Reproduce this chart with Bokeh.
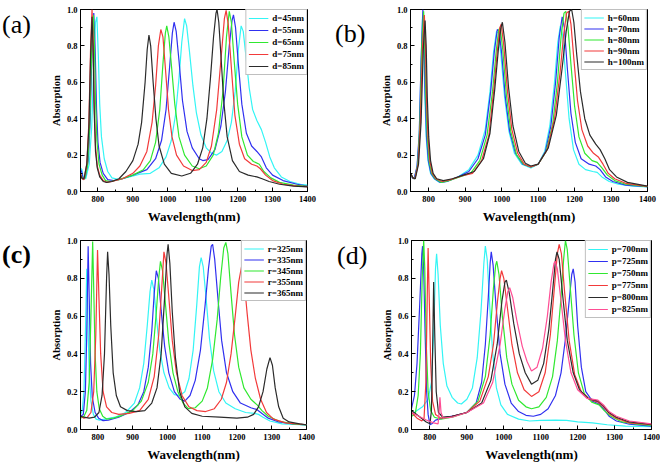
from bokeh.plotting import figure
from bokeh.layouts import column, row
from bokeh.models import SingleIntervalTicker, PrintfTickFormatter, Range1d, Div
from bokeh.embed import file_html
from bokeh.resources import INLINE

# ---------------- data ----------------
x_ticks = [800, 900, 1000, 1100, 1200, 1300, 1400]
y_ticks = [0.0, 0.2, 0.4, 0.6, 0.8, 1.0]

# panel (a): d series
a_labels = ["d=45nm", "d=55nm", "d=65nm", "d=75nm", "d=85nm"]
a45_wl = [750, 754, 758, 765, 775, 782, 788, 793, 797, 801, 805, 810, 818, 828, 840, 860, 890, 920, 950, 975, 995, 1010, 1022, 1032, 1040, 1048, 1054, 1062, 1072, 1082, 1095, 1110, 1125, 1140, 1155, 1170, 1182, 1193, 1202, 1210, 1216, 1224, 1233, 1243, 1255, 1268, 1280, 1292, 1305, 1325, 1350, 1380, 1400]
a45_ab = [0.13, 0.12, 0.07, 0.07, 0.15, 0.35, 0.7, 0.93, 0.96, 0.75, 0.48, 0.3, 0.18, 0.11, 0.075, 0.065, 0.08, 0.095, 0.1, 0.13, 0.19, 0.28, 0.42, 0.62, 0.82, 0.95, 0.91, 0.77, 0.58, 0.43, 0.31, 0.24, 0.21, 0.2, 0.22, 0.28, 0.38, 0.55, 0.78, 0.91, 0.88, 0.74, 0.57, 0.45, 0.39, 0.34, 0.27, 0.19, 0.13, 0.08, 0.055, 0.04, 0.035]
a55_wl = [750, 753, 758, 764, 772, 778, 783, 788, 792, 796, 800, 806, 815, 828, 845, 870, 900, 940, 965, 982, 995, 1005, 1013, 1018, 1024, 1032, 1042, 1055, 1070, 1090, 1100, 1115, 1135, 1152, 1165, 1176, 1184, 1188, 1194, 1202, 1212, 1225, 1240, 1255, 1268, 1282, 1300, 1330, 1370, 1400]
a55_ab = [0.12, 0.11, 0.07, 0.08, 0.17, 0.4, 0.8, 0.98, 0.78, 0.45, 0.27, 0.16, 0.1, 0.065, 0.06, 0.07, 0.09, 0.12, 0.18, 0.28, 0.45, 0.68, 0.87, 0.93, 0.88, 0.72, 0.5, 0.33, 0.24, 0.18, 0.17, 0.175, 0.23, 0.36, 0.55, 0.8, 0.94, 0.97, 0.9, 0.7, 0.48, 0.32, 0.25, 0.22, 0.19, 0.13, 0.09, 0.06, 0.04, 0.03]
a65_wl = [750, 756, 762, 770, 776, 782, 787, 790, 793, 797, 803, 812, 822, 835, 860, 900, 930, 950, 965, 977, 986, 993, 997, 1003, 1010, 1020, 1032, 1048, 1070, 1090, 1110, 1130, 1145, 1158, 1168, 1176, 1182, 1190, 1200, 1212, 1228, 1245, 1262, 1275, 1295, 1320, 1360, 1400]
a65_ab = [0.1, 0.07, 0.07, 0.14, 0.35, 0.78, 0.97, 0.8, 0.5, 0.28, 0.15, 0.09, 0.06, 0.055, 0.065, 0.09, 0.12, 0.17, 0.27, 0.45, 0.7, 0.87, 0.91, 0.85, 0.7, 0.48, 0.3, 0.2, 0.14, 0.125, 0.14, 0.2, 0.32, 0.55, 0.85, 0.99, 0.93, 0.72, 0.48, 0.3, 0.2, 0.165, 0.15, 0.11, 0.075, 0.05, 0.035, 0.028]
a75_wl = [750, 755, 760, 768, 774, 779, 783, 786, 789, 793, 798, 805, 815, 825, 840, 870, 900, 920, 940, 955, 965, 973, 980, 986, 993, 1002, 1012, 1025, 1045, 1070, 1090, 1110, 1125, 1140, 1152, 1162, 1167, 1173, 1182, 1192, 1205, 1220, 1240, 1255, 1265, 1280, 1300, 1330, 1370, 1400]
a75_ab = [0.1, 0.07, 0.065, 0.15, 0.38, 0.8, 1.0, 0.85, 0.5, 0.25, 0.14, 0.09, 0.06, 0.05, 0.055, 0.07, 0.1, 0.14, 0.22, 0.38, 0.58, 0.8, 0.89, 0.85, 0.68, 0.45, 0.3, 0.2, 0.14, 0.115, 0.12, 0.16, 0.25, 0.45, 0.72, 0.95, 0.995, 0.92, 0.68, 0.42, 0.26, 0.18, 0.15, 0.14, 0.125, 0.09, 0.06, 0.04, 0.03, 0.027]
a85_wl = [750, 755, 760, 768, 774, 779, 783, 786, 789, 793, 798, 805, 815, 825, 840, 860, 880, 900, 915, 925, 935, 941, 946, 951, 958, 966, 975, 990, 1010, 1040, 1065, 1085, 1100, 1112, 1122, 1131, 1138, 1141, 1146, 1153, 1160, 1170, 1185, 1205, 1230, 1255, 1270, 1290, 1320, 1360, 1400]
a85_ab = [0.09, 0.07, 0.07, 0.15, 0.35, 0.75, 0.96, 0.8, 0.45, 0.22, 0.13, 0.08, 0.055, 0.05, 0.055, 0.07, 0.11, 0.17, 0.26, 0.38, 0.6, 0.78, 0.86, 0.8, 0.6, 0.4, 0.25, 0.15, 0.1, 0.085, 0.1, 0.15, 0.24, 0.4, 0.62, 0.85, 0.98, 1.0, 0.93, 0.72, 0.5, 0.3, 0.17, 0.11, 0.09, 0.08, 0.07, 0.055, 0.04, 0.03, 0.025]

# panel (b): h series
b_labels = ["h=60nm", "h=70nm", "h=80nm", "h=90nm", "h=100nm"]
b60_wl = [750, 755, 760, 768, 774, 779, 783, 786, 789, 793, 798, 805, 815, 830, 850, 880, 910, 935, 955, 968, 978, 986, 991, 998, 1008, 1020, 1035, 1055, 1080, 1100, 1118, 1132, 1144, 1154, 1161, 1167, 1175, 1185, 1197, 1212, 1230, 1250, 1262, 1275, 1295, 1320, 1360, 1400]
b60_ab = [0.1, 0.075, 0.07, 0.13, 0.3, 0.7, 0.96, 0.85, 0.55, 0.3, 0.17, 0.1, 0.07, 0.05, 0.055, 0.08, 0.12, 0.2, 0.34, 0.55, 0.77, 0.88, 0.87, 0.75, 0.52, 0.33, 0.21, 0.15, 0.13, 0.15, 0.22, 0.36, 0.58, 0.82, 0.91, 0.86, 0.65, 0.4, 0.23, 0.15, 0.12, 0.11, 0.105, 0.08, 0.055, 0.04, 0.03, 0.025]
b70_wl = [750, 755, 760, 768, 774, 779, 784, 787, 790, 794, 799, 806, 816, 832, 850, 880, 910, 935, 955, 970, 980, 988, 993, 1000, 1010, 1022, 1038, 1058, 1080, 1100, 1120, 1135, 1148, 1158, 1166, 1172, 1180, 1190, 1202, 1218, 1240, 1258, 1270, 1285, 1305, 1340, 1400]
b70_ab = [0.1, 0.075, 0.07, 0.14, 0.32, 0.72, 1.0, 0.85, 0.55, 0.3, 0.17, 0.1, 0.07, 0.05, 0.055, 0.08, 0.11, 0.18, 0.31, 0.55, 0.77, 0.89, 0.88, 0.76, 0.52, 0.33, 0.21, 0.15, 0.135, 0.15, 0.22, 0.36, 0.6, 0.85, 0.96, 0.9, 0.68, 0.43, 0.27, 0.18, 0.15, 0.14, 0.12, 0.08, 0.055, 0.035, 0.026]
b80_wl = [750, 756, 762, 770, 776, 781, 786, 789, 792, 796, 801, 808, 818, 835, 855, 885, 915, 940, 960, 975, 985, 992, 996, 1003, 1013, 1025, 1041, 1060, 1080, 1100, 1122, 1140, 1153, 1163, 1171, 1176, 1182, 1190, 1200, 1212, 1228, 1248, 1262, 1275, 1290, 1310, 1340, 1400]
b80_ab = [0.1, 0.075, 0.07, 0.15, 0.38, 0.8, 0.99, 0.82, 0.52, 0.3, 0.17, 0.1, 0.07, 0.05, 0.06, 0.08, 0.1, 0.17, 0.31, 0.55, 0.77, 0.89, 0.9, 0.78, 0.53, 0.33, 0.2, 0.15, 0.135, 0.15, 0.22, 0.37, 0.6, 0.85, 0.98, 0.99, 0.9, 0.7, 0.47, 0.3, 0.21, 0.17, 0.16, 0.13, 0.09, 0.06, 0.04, 0.027]
b90_wl = [750, 756, 762, 771, 777, 783, 788, 791, 794, 798, 803, 810, 820, 837, 860, 890, 920, 945, 965, 978, 988, 995, 999, 1006, 1016, 1028, 1044, 1062, 1080, 1100, 1125, 1145, 1160, 1170, 1178, 1184, 1190, 1198, 1208, 1220, 1236, 1252, 1265, 1278, 1292, 1310, 1340, 1400]
b90_ab = [0.1, 0.075, 0.07, 0.15, 0.38, 0.8, 0.97, 0.8, 0.5, 0.3, 0.17, 0.1, 0.07, 0.055, 0.065, 0.085, 0.1, 0.17, 0.31, 0.55, 0.77, 0.9, 0.92, 0.8, 0.55, 0.34, 0.21, 0.15, 0.135, 0.15, 0.23, 0.4, 0.65, 0.86, 0.98, 0.99, 0.92, 0.73, 0.5, 0.34, 0.25, 0.21, 0.19, 0.15, 0.1, 0.07, 0.045, 0.028]
b100_wl = [750, 757, 763, 772, 779, 785, 790, 793, 796, 800, 805, 812, 822, 840, 865, 895, 925, 950, 968, 981, 991, 998, 1002, 1009, 1019, 1031, 1047, 1065, 1080, 1100, 1128, 1150, 1166, 1177, 1186, 1192, 1198, 1206, 1216, 1228, 1242, 1258, 1270, 1283, 1296, 1315, 1345, 1400]
b100_ab = [0.1, 0.075, 0.07, 0.15, 0.38, 0.78, 0.94, 0.8, 0.52, 0.3, 0.17, 0.1, 0.07, 0.06, 0.07, 0.09, 0.11, 0.18, 0.32, 0.56, 0.78, 0.9, 0.93, 0.82, 0.57, 0.36, 0.22, 0.155, 0.14, 0.15, 0.24, 0.42, 0.68, 0.88, 0.99, 1.0, 0.93, 0.75, 0.55, 0.4, 0.31, 0.26, 0.23, 0.18, 0.12, 0.08, 0.05, 0.03]

# panel (c): r series
c_labels = ["r=325nm", "r=335nm", "r=345nm", "r=355nm", "r=365nm"]
c325_wl = [750, 755, 760, 764, 768, 771, 775, 780, 787, 795, 805, 820, 850, 880, 905, 920, 932, 942, 950, 955, 961, 969, 978, 990, 1005, 1020, 1035, 1050, 1062, 1074, 1084, 1092, 1097, 1103, 1111, 1121, 1133, 1148, 1168, 1195, 1225, 1250, 1262, 1275, 1295, 1330, 1400]
c325_ab = [0.08, 0.1, 0.2, 0.5, 0.85, 0.6, 0.3, 0.15, 0.08, 0.055, 0.05, 0.055, 0.065, 0.09, 0.14, 0.22, 0.35, 0.55, 0.73, 0.79, 0.74, 0.58, 0.42, 0.3, 0.22, 0.185, 0.18, 0.2, 0.27, 0.42, 0.65, 0.86, 0.91, 0.86, 0.7, 0.48, 0.31, 0.2, 0.14, 0.11, 0.09, 0.085, 0.08, 0.065, 0.045, 0.03, 0.024]
c335_wl = [750, 758, 764, 768, 772, 775, 779, 784, 792, 802, 815, 830, 860, 890, 915, 932, 945, 955, 962, 968, 974, 982, 992, 1004, 1020, 1037, 1050, 1065, 1080, 1095, 1108, 1118, 1126, 1130, 1136, 1145, 1156, 1170, 1188, 1210, 1240, 1258, 1272, 1290, 1320, 1360, 1400]
c335_ab = [0.07, 0.08, 0.2, 0.5, 0.97, 0.7, 0.35, 0.17, 0.09, 0.06, 0.047, 0.05, 0.065, 0.09, 0.13, 0.2, 0.33, 0.52, 0.72, 0.84, 0.8, 0.63, 0.44, 0.3, 0.2, 0.16, 0.15, 0.18, 0.26, 0.42, 0.65, 0.85, 0.97, 0.98, 0.9, 0.7, 0.47, 0.3, 0.2, 0.14, 0.115, 0.105, 0.085, 0.06, 0.04, 0.03, 0.024]
c345_wl = [750, 760, 768, 775, 780, 785, 788, 792, 797, 804, 814, 825, 845, 870, 900, 925, 945, 958, 968, 975, 980, 986, 994, 1004, 1016, 1030, 1045, 1060, 1080, 1100, 1115, 1130, 1143, 1153, 1162, 1168, 1174, 1183, 1193, 1205, 1220, 1240, 1258, 1272, 1290, 1320, 1360, 1400]
c345_ab = [0.06, 0.07, 0.1, 0.25, 0.6, 0.995, 0.75, 0.4, 0.2, 0.11, 0.07, 0.055, 0.06, 0.075, 0.1, 0.15, 0.25, 0.4, 0.62, 0.8, 0.89, 0.84, 0.67, 0.46, 0.3, 0.2, 0.14, 0.11, 0.115, 0.15, 0.22, 0.37, 0.58, 0.8, 0.96, 0.99, 0.93, 0.72, 0.5, 0.33, 0.22, 0.16, 0.13, 0.1, 0.07, 0.045, 0.03, 0.024]
c355_wl = [750, 760, 770, 780, 788, 794, 799, 803, 808, 815, 825, 840, 860, 890, 920, 945, 962, 975, 984, 990, 996, 1004, 1014, 1026, 1042, 1062, 1085, 1110, 1135, 1155, 1170, 1183, 1195, 1205, 1213, 1220, 1229, 1240, 1253, 1268, 1285, 1305, 1340, 1400]
c355_ab = [0.07, 0.06, 0.065, 0.09, 0.2, 0.5, 0.95, 0.7, 0.4, 0.2, 0.12, 0.09, 0.08, 0.085, 0.1, 0.16, 0.28, 0.5, 0.76, 0.94, 0.88, 0.7, 0.47, 0.3, 0.18, 0.12, 0.1, 0.095, 0.11, 0.16, 0.25, 0.4, 0.6, 0.78, 0.86, 0.8, 0.62, 0.42, 0.27, 0.16, 0.09, 0.055, 0.035, 0.025]
c365_wl = [750, 760, 775, 790, 803, 812, 819, 825, 828, 832, 837, 844, 853, 865, 885, 910, 935, 955, 970, 982, 992, 999, 1002, 1007, 1014, 1023, 1035, 1050, 1070, 1100, 1150, 1200, 1230, 1248, 1262, 1275, 1286, 1295, 1302, 1310, 1320, 1333, 1350, 1380, 1400]
c365_ab = [0.07, 0.065, 0.06, 0.065, 0.09, 0.18, 0.4, 0.8, 0.94, 0.82, 0.55, 0.3, 0.18, 0.12, 0.1, 0.095, 0.1, 0.14, 0.22, 0.4, 0.7, 0.93, 0.98, 0.88, 0.62, 0.38, 0.2, 0.12, 0.085, 0.07, 0.065, 0.06, 0.065, 0.08, 0.12, 0.2, 0.32, 0.38, 0.34, 0.22, 0.12, 0.06, 0.04, 0.03, 0.025]

# panel (d): p series
d_labels = ["p=700nm", "p=725nm", "p=750nm", "p=775nm", "p=800nm", "p=825nm"]
d700_wl = [750, 765, 780, 795, 804, 810, 815, 818, 822, 828, 836, 846, 860, 875, 885, 900, 915, 928, 938, 946, 950, 955, 962, 970, 980, 992, 1010, 1040, 1070, 1100, 1140, 1170, 1200, 1240, 1280, 1330, 1400]
d700_ab = [0.08, 0.1, 0.12, 0.16, 0.25, 0.5, 0.85, 0.93, 0.82, 0.55, 0.35, 0.23, 0.17, 0.14, 0.135, 0.16, 0.22, 0.38, 0.62, 0.88, 0.97, 0.9, 0.65, 0.4, 0.22, 0.13, 0.08, 0.055, 0.045, 0.048, 0.05, 0.048, 0.04, 0.035, 0.025, 0.018, 0.015]
d725_wl = [750, 758, 765, 772, 778, 780, 783, 787, 791, 795, 800, 805, 815, 835, 870, 900, 925, 940, 950, 958, 963, 966, 971, 979, 990, 1003, 1020, 1040, 1060, 1080, 1100, 1120, 1140, 1155, 1167, 1177, 1184, 1188, 1193, 1200, 1210, 1222, 1240, 1258, 1270, 1285, 1305, 1340, 1400]
d725_ab = [0.11, 0.18, 0.35, 0.65, 0.93, 0.97, 0.85, 0.5, 0.2, 0.08, 0.025, 0.03, 0.05, 0.06, 0.075, 0.09, 0.14, 0.25, 0.45, 0.7, 0.88, 0.94, 0.87, 0.65, 0.4, 0.24, 0.14, 0.095, 0.075, 0.07, 0.08, 0.11, 0.18, 0.3, 0.48, 0.68, 0.82, 0.85, 0.78, 0.55, 0.33, 0.2, 0.15, 0.135, 0.11, 0.07, 0.045, 0.028, 0.018]
d750_wl = [750, 760, 768, 774, 779, 783, 786, 790, 795, 802, 812, 830, 860, 900, 930, 950, 963, 972, 978, 981, 987, 996, 1008, 1022, 1040, 1060, 1075, 1095, 1115, 1132, 1145, 1155, 1162, 1167, 1172, 1180, 1190, 1202, 1218, 1238, 1258, 1272, 1290, 1320, 1360, 1400]
d750_ab = [0.07, 0.08, 0.18, 0.4, 0.8, 1.0, 0.85, 0.45, 0.2, 0.1, 0.065, 0.055, 0.065, 0.09, 0.15, 0.28, 0.5, 0.75, 0.87, 0.89, 0.82, 0.6, 0.38, 0.24, 0.155, 0.12, 0.11, 0.12, 0.17, 0.28, 0.47, 0.7, 0.9, 1.0, 0.95, 0.75, 0.5, 0.3, 0.19, 0.145, 0.13, 0.1, 0.07, 0.04, 0.028, 0.022]
d775_wl = [750, 765, 778, 784, 789, 793, 795, 798, 802, 807, 815, 830, 860, 900, 935, 958, 972, 983, 990, 994, 1000, 1010, 1022, 1037, 1055, 1075, 1095, 1112, 1126, 1137, 1145, 1150, 1156, 1165, 1177, 1192, 1210, 1232, 1255, 1270, 1285, 1305, 1340, 1400]
d775_ab = [0.09, 0.06, 0.045, 0.06, 0.25, 0.75, 0.96, 0.7, 0.35, 0.15, 0.08, 0.06, 0.07, 0.09, 0.15, 0.28, 0.45, 0.68, 0.8, 0.84, 0.8, 0.64, 0.45, 0.3, 0.21, 0.175, 0.2, 0.3, 0.5, 0.75, 0.93, 0.98, 0.93, 0.72, 0.47, 0.29, 0.2, 0.16, 0.145, 0.12, 0.085, 0.06, 0.035, 0.025]
d800_wl = [750, 770, 790, 800, 804, 807, 810, 813, 817, 823, 835, 860, 900, 940, 965, 982, 995, 1003, 1007, 1015, 1027, 1042, 1058, 1075, 1092, 1108, 1122, 1133, 1140, 1144, 1150, 1160, 1172, 1188, 1205, 1228, 1255, 1270, 1285, 1305, 1340, 1400]
d800_ab = [0.1, 0.07, 0.04, 0.03, 0.1, 0.4, 0.78, 0.5, 0.2, 0.09, 0.065, 0.07, 0.09, 0.14, 0.26, 0.45, 0.68, 0.78, 0.79, 0.72, 0.56, 0.4, 0.3, 0.24, 0.26, 0.35, 0.53, 0.75, 0.9, 0.94, 0.9, 0.7, 0.47, 0.3, 0.21, 0.165, 0.15, 0.125, 0.09, 0.065, 0.04, 0.027]
d825_wl = [750, 770, 790, 810, 822, 825, 827, 830, 836, 860, 900, 945, 970, 990, 1003, 1011, 1016, 1024, 1035, 1050, 1063, 1075, 1090, 1105, 1118, 1128, 1136, 1139, 1145, 1155, 1167, 1182, 1200, 1225, 1255, 1270, 1285, 1305, 1340, 1400]
d825_ab = [0.09, 0.07, 0.05, 0.035, 0.03, 0.1, 0.17, 0.09, 0.06, 0.065, 0.09, 0.14, 0.25, 0.45, 0.64, 0.73, 0.75, 0.7, 0.58, 0.44, 0.36, 0.31, 0.33, 0.43, 0.6, 0.78, 0.88, 0.89, 0.85, 0.68, 0.47, 0.3, 0.21, 0.165, 0.155, 0.13, 0.095, 0.07, 0.045, 0.03]

# colours
CYAN, BLUE, GREEN, RED, BLACK, PINK = "#33f5f5", "#3030f0", "#30e830", "#f23a3a", "#2b2b2b", "#ff4d94"
FONT = "Liberation Serif"


def make_panel(series, labels, colors, width, height, bl, br, bt, bb, legend_h):
    p = figure(width=width, height=height, output_backend="svg", toolbar_location=None,
               x_range=Range1d(750, 1400), y_range=Range1d(0, 1.0), margin=0,
               min_border_left=bl, min_border_right=br, min_border_top=bt, min_border_bottom=bb)
    p.grid.visible = False
    p.outline_line_color = "black"
    p.outline_line_width = 1
    p.background_fill_color = "white"
    p.border_fill_color = "white"

    for (wl, ab), lab, col in zip(series, labels, colors):
        p.line(wl, ab, line_color=col, line_width=1.2, legend_label=lab)

    p.xaxis.ticker = SingleIntervalTicker(interval=100, num_minor_ticks=2)
    p.yaxis.ticker = SingleIntervalTicker(interval=0.2, num_minor_ticks=2)
    p.yaxis.formatter = PrintfTickFormatter(format="%.1f")
    p.xaxis.axis_label = "Wavelength(nm)"
    p.yaxis.axis_label = "Absorption"
    for ax in (p.xaxis, p.yaxis):
        ax.axis_line_color = "black"
        ax.major_tick_in = 4
        ax.major_tick_out = 0
        ax.minor_tick_in = 2
        ax.minor_tick_out = 0
        ax.major_tick_line_color = "black"
        ax.minor_tick_line_color = "black"
        ax.major_label_text_font = FONT
        ax.major_label_text_font_style = "bold"
        ax.major_label_text_font_size = "8.5px"
        ax.major_label_text_color = "black"
        ax.axis_label_text_font = FONT
        ax.axis_label_text_font_style = "bold"
        ax.axis_label_text_color = "black"
    p.xaxis.major_label_standoff = 4
    p.yaxis.major_label_standoff = 3
    p.xaxis.axis_label_text_font_size = "13px"
    p.yaxis.axis_label_text_font_size = "10.5px"
    p.xaxis.axis_label_standoff = 4
    p.yaxis.axis_label_standoff = 2

    lg = p.legend[0]
    lg.location = "top_right"
    lg.margin = 0
    lg.padding = 2
    lg.spacing = 0
    lg.label_height = legend_h
    lg.glyph_height = legend_h
    lg.glyph_width = 20
    lg.label_standoff = 4
    lg.label_text_font = FONT
    lg.label_text_font_style = "bold"
    lg.label_text_font_size = "9px"
    lg.label_text_color = "black"
    lg.border_line_color = "#808080"
    lg.border_line_width = 1
    lg.background_fill_color = "white"
    lg.background_fill_alpha = 1.0
    return p


def tag_div(text, width, height, top, left, bold):
    weight = "bold" if bold else "normal"
    html = ('<div style="font-family:\'Liberation Serif\';font-size:26px;line-height:26px;'
            f'margin:{top}px 0 0 {left}px;font-weight:{weight};color:black;white-space:nowrap">{text}</div>')
    return Div(text=html, width=width, height=height, margin=0)


pa = make_panel([(a45_wl, a45_ab), (a55_wl, a55_ab), (a65_wl, a65_ab), (a75_wl, a75_ab), (a85_wl, a85_ab)],
                a_labels, [CYAN, BLUE, GREEN, RED, BLACK], 296, 230, 46, 23, 9, 39, 12)
pb = make_panel([(b60_wl, b60_ab), (b70_wl, b70_ab), (b80_wl, b80_ab), (b90_wl, b90_ab), (b100_wl, b100_ab)],
                b_labels, [CYAN, BLUE, GREEN, RED, BLACK], 288, 230, 38, 13, 5, 34, 11)
pc = make_panel([(c325_wl, c325_ab), (c335_wl, c335_ab), (c345_wl, c345_ab), (c355_wl, c355_ab), (c365_wl, c365_ab)],
                c_labels, [CYAN, BLUE, GREEN, RED, BLACK], 296, 238, 46, 24, 10, 39, 11)
pd_ = make_panel([(d700_wl, d700_ab), (d725_wl, d725_ab), (d750_wl, d750_ab), (d775_wl, d775_ab), (d800_wl, d800_ab), (d825_wl, d825_ab)],
                 d_labels, [CYAN, BLUE, GREEN, RED, BLACK, PINK], 288, 238, 39, 9, 9, 35, 12)

ta = tag_div("(a)", 34, 230, 12, 2, False)
tb = tag_div("(b)", 42, 230, 21, 5, False)
tc = tag_div("(c)", 34, 238, 12, 2, True)
td = tag_div("(d)", 42, 238, 13, 7, False)

layout = column(row(ta, pa, tb, pb, margin=0), row(tc, pc, td, pd_, margin=0), margin=0)

with open("out.html", "w") as f:
    f.write(file_html(layout, INLINE))
